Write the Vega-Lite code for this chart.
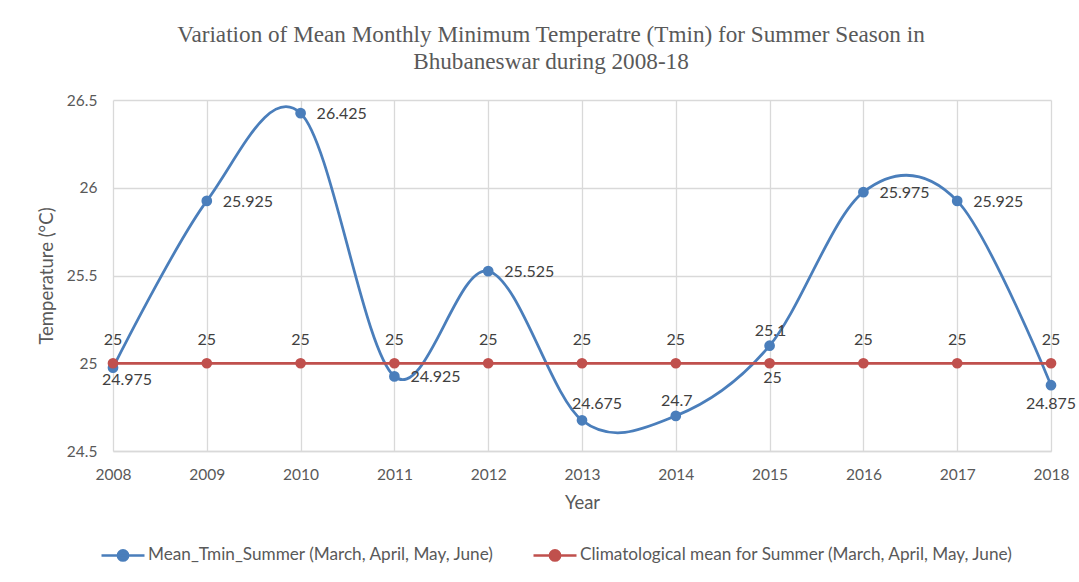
{
  "$schema": "https://vega.github.io/schema/vega-lite/v6.json",
  "width": 938,
  "height": 351,
  "autosize": {"type": "none"},
  "padding": {"left": 113, "top": 100, "right": 28, "bottom": 131},
  "background": "white",
  "title": {
    "text": ["Variation of Mean Monthly Minimum  Temperatre (Tmin) for Summer  Season in", "Bhubaneswar during 2008-18"],
    "font": "Liberation Serif",
    "fontSize": 23.2,
    "fontWeight": "normal",
    "color": "#595959",
    "anchor": "middle",
    "dx": -31,
    "offset": 19,
    "lineHeight": 27
  },
  "config": {
    "view": {"stroke": null},
    "font": "Lato",
    "axis": {
      "labelFont": "Lato",
      "labelFontSize": 15.5,
      "labelColor": "#595959",
      "titleFont": "Lato",
      "titleFontSize": 18.5,
      "titleFontWeight": "normal",
      "titleColor": "#595959",
      "gridColor": "#d9d9d9",
      "gridWidth": 1.3,
      "ticks": false,
      "domain": false,
      "labelFlush": false,
      "labelOverlap": false,
      "labelBound": false
    }
  },
  "data": {
    "values": [
      {"year": 2008, "series": "Mean_Tmin_Summer (March, April, May, June)", "temp": 24.975},
      {"year": 2009, "series": "Mean_Tmin_Summer (March, April, May, June)", "temp": 25.925},
      {"year": 2010, "series": "Mean_Tmin_Summer (March, April, May, June)", "temp": 26.425},
      {"year": 2011, "series": "Mean_Tmin_Summer (March, April, May, June)", "temp": 24.925},
      {"year": 2012, "series": "Mean_Tmin_Summer (March, April, May, June)", "temp": 25.525},
      {"year": 2013, "series": "Mean_Tmin_Summer (March, April, May, June)", "temp": 24.675},
      {"year": 2014, "series": "Mean_Tmin_Summer (March, April, May, June)", "temp": 24.7},
      {"year": 2015, "series": "Mean_Tmin_Summer (March, April, May, June)", "temp": 25.1},
      {"year": 2016, "series": "Mean_Tmin_Summer (March, April, May, June)", "temp": 25.975},
      {"year": 2017, "series": "Mean_Tmin_Summer (March, April, May, June)", "temp": 25.925},
      {"year": 2018, "series": "Mean_Tmin_Summer (March, April, May, June)", "temp": 24.875},
      {"year": 2008, "series": "Climatological mean for Summer (March, April, May, June)", "temp": 25},
      {"year": 2009, "series": "Climatological mean for Summer (March, April, May, June)", "temp": 25},
      {"year": 2010, "series": "Climatological mean for Summer (March, April, May, June)", "temp": 25},
      {"year": 2011, "series": "Climatological mean for Summer (March, April, May, June)", "temp": 25},
      {"year": 2012, "series": "Climatological mean for Summer (March, April, May, June)", "temp": 25},
      {"year": 2013, "series": "Climatological mean for Summer (March, April, May, June)", "temp": 25},
      {"year": 2014, "series": "Climatological mean for Summer (March, April, May, June)", "temp": 25},
      {"year": 2015, "series": "Climatological mean for Summer (March, April, May, June)", "temp": 25},
      {"year": 2016, "series": "Climatological mean for Summer (March, April, May, June)", "temp": 25},
      {"year": 2017, "series": "Climatological mean for Summer (March, April, May, June)", "temp": 25},
      {"year": 2018, "series": "Climatological mean for Summer (March, April, May, June)", "temp": 25}
    ]
  },
  "encoding": {
    "x": {
      "field": "year",
      "type": "quantitative",
      "scale": {"domain": [2008, 2018], "nice": false, "zero": false},
      "axis": {
        "title": "Year",
        "values": [2008, 2009, 2010, 2011, 2012, 2013, 2014, 2015, 2016, 2017, 2018],
        "format": "d",
        "labelPadding": 16,
        "titlePadding": 11,
        "domain": true,
        "domainColor": "#d9d9d9",
        "domainWidth": 1.3
      }
    },
    "y": {
      "field": "temp",
      "type": "quantitative",
      "scale": {"domain": [24.5, 26.5], "nice": false, "zero": false},
      "axis": {
        "title": "Temperature (°C)",
        "values": [24.5, 25, 25.5, 26, 26.5],
        "format": "~g",
        "labelPadding": 16,
        "titlePadding": 10
      }
    },
    "color": {
      "field": "series",
      "type": "nominal",
      "scale": {
        "domain": ["Mean_Tmin_Summer (March, April, May, June)", "Climatological mean for Summer (March, April, May, June)"],
        "range": ["#4a7ebb", "#c0504d"]
      },
      "legend": {
        "title": null,
        "orient": "none",
        "direction": "horizontal",
        "legendX": -13,
        "legendY": 432,
        "symbolType": "M-1,0H1M-0.24,0A0.24,0.24 0 1,0 0.24,0A0.24,0.24 0 1,0 -0.24,0Z",
        "symbolSize": 1849,
        "symbolStrokeWidth": 2.5,
        "labelFont": "Lato",
        "labelFontSize": 17.2,
        "labelColor": "#595959",
        "labelOffset": 2,
        "columnPadding": 33,
        "labelLimit": 700,
        "encode": {
          "symbols": {
            "update": {
              "fill": {"scale": "color", "field": "value"},
              "stroke": {"scale": "color", "field": "value"},
              "opacity": {"value": 1}
            }
          }
        }
      }
    }
  },
  "layer": [
    {
      "mark": {"type": "line", "interpolate": "cardinal", "tension": 0, "strokeWidth": 2.75}
    },
    {
      "mark": {"type": "point", "filled": true, "size": 115, "opacity": 1, "shape": "circle"}
    },
    {
      "transform": [
        {"filter": "datum.series == 'Mean_Tmin_Summer (March, April, May, June)'"},
        {"filter": {"field": "year", "oneOf": [2009, 2010, 2011, 2012, 2016, 2017]}}
      ],
      "mark": {"type": "text", "align": "left", "baseline": "middle", "dx": 16, "dy": 1, "fontSize": 16, "color": "#404040", "font": "Lato"},
      "encoding": {"text": {"field": "temp", "type": "quantitative", "format": "~g"}, "color": {"value": "#404040"}}
    },
    {
      "transform": [
        {"filter": "datum.series == 'Mean_Tmin_Summer (March, April, May, June)'"},
        {"filter": {"field": "year", "oneOf": [2014, 2015]}}
      ],
      "mark": {"type": "text", "align": "center", "baseline": "middle", "dx": 1, "dy": -15, "fontSize": 16, "color": "#404040", "font": "Lato"},
      "encoding": {"text": {"field": "temp", "type": "quantitative", "format": "~g"}, "color": {"value": "#404040"}}
    },
    {
      "transform": [
        {"filter": "datum.series == 'Mean_Tmin_Summer (March, April, May, June)'"},
        {"filter": {"field": "year", "oneOf": [2013]}}
      ],
      "mark": {"type": "text", "align": "center", "baseline": "middle", "dx": 15, "dy": -16, "fontSize": 16, "color": "#404040", "font": "Lato"},
      "encoding": {"text": {"field": "temp", "type": "quantitative", "format": "~g"}, "color": {"value": "#404040"}}
    },
    {
      "transform": [
        {"filter": "datum.series == 'Mean_Tmin_Summer (March, April, May, June)'"},
        {"filter": {"field": "year", "oneOf": [2008]}}
      ],
      "mark": {"type": "text", "align": "center", "baseline": "middle", "dx": 14, "dy": 12, "fontSize": 16, "color": "#404040", "font": "Lato"},
      "encoding": {"text": {"field": "temp", "type": "quantitative", "format": "~g"}, "color": {"value": "#404040"}}
    },
    {
      "transform": [
        {"filter": "datum.series == 'Mean_Tmin_Summer (March, April, May, June)'"},
        {"filter": {"field": "year", "oneOf": [2018]}}
      ],
      "mark": {"type": "text", "align": "center", "baseline": "middle", "dx": 0, "dy": 19, "fontSize": 16, "color": "#404040", "font": "Lato"},
      "encoding": {"text": {"field": "temp", "type": "quantitative", "format": "~g"}, "color": {"value": "#404040"}}
    },
    {
      "transform": [
        {"filter": "datum.series == 'Climatological mean for Summer (March, April, May, June)'"},
        {"filter": "datum.year != 2015"}
      ],
      "mark": {"type": "text", "align": "center", "baseline": "middle", "dx": 0, "dy": -23, "fontSize": 16, "color": "#404040", "font": "Lato"},
      "encoding": {"text": {"field": "temp", "type": "quantitative", "format": "~g"}, "color": {"value": "#404040"}}
    },
    {
      "transform": [
        {"filter": "datum.series == 'Climatological mean for Summer (March, April, May, June)'"},
        {"filter": "datum.year == 2015"}
      ],
      "mark": {"type": "text", "align": "center", "baseline": "middle", "dx": 3, "dy": 15, "fontSize": 16, "color": "#404040", "font": "Lato"},
      "encoding": {"text": {"field": "temp", "type": "quantitative", "format": "~g"}, "color": {"value": "#404040"}}
    }
  ]
}
